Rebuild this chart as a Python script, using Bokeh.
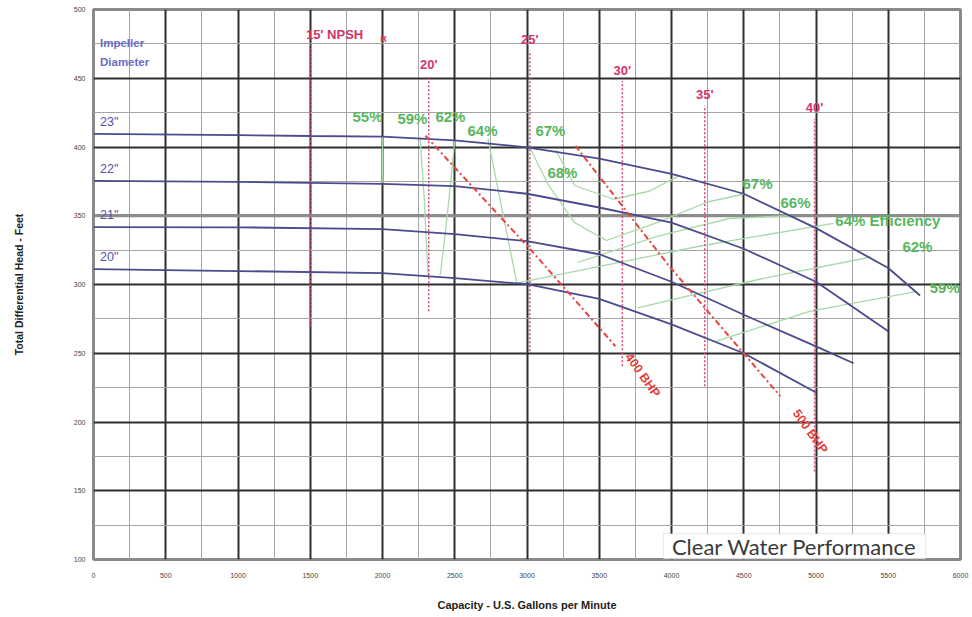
from bokeh.plotting import figure
from bokeh.models import Range1d, SingleIntervalTicker, Span, BoxAnnotation, Label
from bokeh.core.properties import value
from bokeh.embed import file_html
from bokeh.resources import INLINE

# ---------------- data ----------------
# impeller head curves (capacity gpm -> head ft)
imp_labels = ['23"', '22"', '21"', '20"']
imp23_x = [0, 1000, 1500, 2000, 2500, 3000, 3500, 4000, 4500, 5000, 5500, 5720]
imp23_y = [409.6, 408.6, 408.0, 407.6, 404.8, 399.8, 391.6, 380.5, 366, 341, 312, 292]
imp22_x = [0, 1000, 2000, 2500, 3000, 3500, 4000, 4500, 5000, 5500]
imp22_y = [375.4, 374.6, 373.2, 371.6, 366, 356, 345, 326, 302, 266]
imp21_x = [0, 1000, 2000, 2500, 3000, 3500, 4000, 4500, 5000, 5260]
imp21_y = [341.8, 341.6, 340.3, 336.6, 331.5, 322, 302, 278, 255, 242.7]
imp20_x = [0, 1000, 2000, 2500, 3000, 3500, 4000, 4500, 5000]
imp20_y = [311.2, 309.8, 308.3, 304.6, 300.2, 289.5, 271, 250, 221.5]

# NPSH required lines
npsh_labels = ["15' NPSH", "20'", "25'", "30'", "35'", "40'"]
npsh_x = [1500, 2320, 3020, 3660, 4230, 4990]
npsh_top = [474, 452, 470, 448, 430, 420.5]
npsh_bottom = [269.7, 280.6, 251.5, 240.5, 226, 164]

# brake horsepower lines
bhp_labels = ["400 BHP", "500 BHP"]
bhp400_x = [2297, 3045, 3612]
bhp400_y = [408.2, 323, 255.1]
bhp500_x = [3335, 3972, 4754]
bhp500_y = [400.9, 314.9, 218.6]

# iso-efficiency curves
eff55_x = [2000, 2000]
eff55_y = [407.6, 374.0]
eff59a_x = [2260, 2290, 2315]
eff59a_y = [406.8, 361, 306.5]
eff59b_x = [4304, 4962, 5700]
eff59b_y = [258.7, 280.6, 295]
eff62a_x = [2500, 2470, 2435, 2400]
eff62a_y = [404.8, 372, 338, 307]
eff62b_x = [3765, 4616, 5380]
eff62b_y = [283, 304, 320]
eff64_x = [2730, 2795, 2860, 2930, 4200, 5120]
eff64_y = [406, 371.5, 337.5, 301, 328, 344.5]
eff66_x = [3350, 3900, 4400, 4820]
eff66_y = [316, 335, 348, 350]
eff67_x = [3020, 3150, 3330, 3550, 3900, 4250, 4510]
eff67_y = [399.5, 372, 345, 332, 345, 360, 366]
eff68_x = [3200, 3330, 3600, 3850, 4050]
eff68_y = [397.5, 372, 362, 368, 379]

eff_label_text = ["55%", "59%", "62%", "64%", "67%", "68%", "67%", "66%",
                  "64% Efficiency", "62%", "59%"]

x_ticks = list(range(0, 6001, 500))
y_ticks = list(range(100, 501, 50))

# ---------------- figure ----------------
FONT = value("Liberation Sans")

p = figure(width=970, height=613, x_range=Range1d(0, 6000), y_range=Range1d(100, 500),
           output_backend="svg", toolbar_location=None,
           min_border_left=93, min_border_right=10, min_border_top=9, min_border_bottom=50,
           background_fill_color="white", border_fill_color="white")

p.xaxis.ticker = SingleIntervalTicker(interval=500, num_minor_ticks=2)
p.yaxis.ticker = SingleIntervalTicker(interval=50, num_minor_ticks=2)
p.xaxis.major_label_overrides = {t: str(t) for t in x_ticks}
p.yaxis.major_label_overrides = {t: str(t) for t in y_ticks}

for ax in (p.xaxis, p.yaxis):
    ax.axis_line_color = None
    ax.major_tick_line_color = None
    ax.minor_tick_line_color = None
    ax.major_tick_out = 0
    ax.minor_tick_out = 0
    ax.major_tick_in = 0
    ax.minor_tick_in = 0
    ax.major_label_text_font = "Liberation Sans"
    ax.major_label_text_font_size = "7px"
    ax.major_label_text_color = "#444444"
    ax.axis_label_text_font = "Liberation Sans"
    ax.axis_label_text_font_style = "bold"
    ax.axis_label_text_color = "#222222"

p.xaxis.axis_label = "Capacity - U.S. Gallons per Minute"
p.xaxis.axis_label_text_font_size = "11px"
p.xaxis.major_label_standoff = 13
p.xaxis.axis_label_standoff = 18
p.yaxis.axis_label = "Total Differential Head - Feet"
p.yaxis.axis_label_text_font_size = "10.5px"
p.yaxis.major_label_standoff = 8
p.yaxis.axis_label_standoff = 46

for g in (p.xgrid, p.ygrid):
    g.grid_line_color = "#2e2e2e"
    g.grid_line_width = 2
    g.grid_line_alpha = 1
    g.minor_grid_line_color = "#a5a5a5"
    g.minor_grid_line_width = 1

p.outline_line_color = "#8a8a8a"
p.outline_line_width = 3

p.add_layout(Span(location=350, dimension="width", line_color="#8c8c8c",
                  line_width=3, level="underlay"))

# efficiency curves
eff_color = "#a8d8a8"
for ex, ey in [(eff55_x, eff55_y), (eff59a_x, eff59a_y), (eff59b_x, eff59b_y),
               (eff62a_x, eff62a_y), (eff62b_x, eff62b_y), (eff64_x, eff64_y),
               (eff66_x, eff66_y), (eff67_x, eff67_y), (eff68_x, eff68_y)]:
    p.line(ex, ey, line_color=eff_color, line_width=1.3)

# NPSH lines
p.segment(x0=npsh_x, y0=npsh_bottom, x1=npsh_x, y1=npsh_top,
          line_color="#d8466f", line_width=1.5, line_dash="2 2")

# impeller curves
imp_color = "#4b4b8e"
for ix, iy in [(imp23_x, imp23_y), (imp22_x, imp22_y), (imp21_x, imp21_y), (imp20_x, imp20_y)]:
    p.line(ix, iy, line_color=imp_color, line_width=1.8)

# BHP lines
for bx, by in [(bhp400_x, bhp400_y), (bhp500_x, bhp500_y)]:
    p.line(bx, by, line_color="#e8453f", line_width=2, line_dash="6 3 2 3")

# ---------------- texts ----------------
# impeller labels
p.text(x=[45] * 4, y=[imp23_y[0] + 8.5, imp22_y[0] + 8.5, imp21_y[0] + 8.5, imp20_y[0] + 8.5],
       text=imp_labels, text_font=FONT, text_font_size="12.5px", text_color="#5252a8",
       text_baseline="middle", text_align="left")
p.text(x=[45, 45], y=[476, 461.5], text=["Impeller", "Diameter"], text_font=FONT,
       text_font_size="11.5px", text_font_style="bold", text_color="#6c6cc8",
       text_baseline="middle", text_align="left")

# NPSH labels
npsh_lab_x = [npsh_x[0] - 30] + npsh_x[1:]
npsh_lab_y = [t + 8 for t in npsh_top]
p.text(x=npsh_lab_x[:1], y=npsh_lab_y[:1], text=npsh_labels[:1], text_font=FONT,
       text_font_size="13px", text_font_style="bold", text_color="#d2346a",
       text_align="left", text_baseline="middle")
p.text(x=npsh_lab_x[1:], y=npsh_lab_y[1:], text=npsh_labels[1:], text_font=FONT,
       text_font_size="13px", text_font_style="bold", text_color="#d2346a",
       text_align="center", text_baseline="middle")
p.text(x=[1985], y=[npsh_lab_y[0] - 3.5], text=["R"], text_font=FONT,
       text_font_size="9px", text_font_style="bold", text_color="#d2346a",
       text_align="left", text_baseline="middle")

# BHP labels
p.text(x=[3800, 4960], y=[234, 193], text=bhp_labels, angle=[-0.95, -0.95],
       text_font=FONT, text_font_size="12.5px", text_font_style="bold",
       text_color="#e2403a", text_align="center", text_baseline="middle")

# efficiency labels
eff_lab_x = [1896, 2207, 2470, 2692, 3162, 3245, 4595, 4858, 5134, 5702, 5995]
eff_lab_y = [422, 420.6, 422, 411.8, 411.8, 381.2, 373.2, 360, 346.2, 327.3, 298]
eff_lab_align = ["center"] * 8 + ["left", "center", "right"]
for tx, ty, tt, ta in zip(eff_lab_x, eff_lab_y, eff_label_text, eff_lab_align):
    p.text(x=[tx], y=[ty], text=[tt], text_font=FONT, text_font_size="15px",
           text_font_style="bold", text_color="#58b660", text_align=ta,
           text_baseline="middle")

# Clear water performance box
p.add_layout(BoxAnnotation(left=3944, right=5757, bottom=100.6, top=118.8,
                           fill_color="white", fill_alpha=1, line_color="#b5b5b5",
                           line_width=1))
p.add_layout(Label(x=4850, y=109.5, text="Clear Water Performance",
                   text_font="Lato", text_font_size="22px", text_color="#3a3a3a",
                   text_align="center", text_baseline="middle"))

with open("out.html", "w") as f:
    f.write(file_html(p, INLINE))
